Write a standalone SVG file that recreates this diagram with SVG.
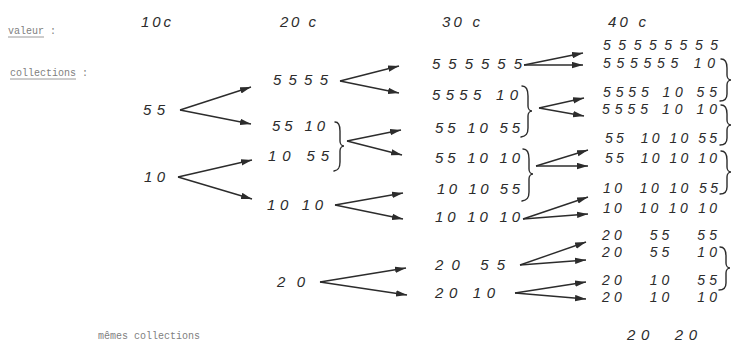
<svg xmlns="http://www.w3.org/2000/svg" width="732" height="344" viewBox="0 0 732 344">
<defs>
<style>
.h{font-family:"Liberation Sans",Arial,sans-serif;font-style:italic;font-size:15px;fill:#2c2c2c}
.s{font-size:14px}
.t{font-family:"Liberation Mono","DejaVu Sans Mono",monospace;font-size:10px;fill:#808080}
.u{stroke:#9a9a9a;stroke-width:1}
.a{stroke:#2c2c2c;stroke-width:1.4;fill:none;marker-end:url(#ah)}
.b{stroke:#2c2c2c;stroke-width:1.4;fill:none;stroke-linecap:round}
</style>
<marker id="ah" markerUnits="userSpaceOnUse" markerWidth="11" markerHeight="7" refX="11" refY="3.5" orient="auto">
<path d="M0,0.3 L11,3.5 L0,6.7 z" fill="#2c2c2c"/>
</marker>
</defs>
<rect width="732" height="344" fill="#ffffff"/>

<g id="labels">
<text class="t" x="8" y="34">valeur :</text>
<line class="u" x1="8" y1="37" x2="44" y2="37"/>
<text class="t" x="10" y="76">collections :</text>
<line class="u" x1="10" y1="79" x2="76" y2="79"/>
<text class="t" x="98" y="339">mêmes collections</text>
</g>

<g id="headers">
<text class="h" x="141" y="27" textLength="30" lengthAdjust="spacing">10c</text>
<text class="h" x="280" y="27" textLength="36" lengthAdjust="spacing">20 c</text>
<text class="h" x="442" y="27" textLength="38" lengthAdjust="spacing">30 c</text>
<text class="h" x="608" y="27" textLength="38" lengthAdjust="spacing">40 c</text>
</g>

<g id="c10-55"><text class="h" x="143" y="115" textLength="22" lengthAdjust="spacing">55</text></g>
<g id="c10-10"><text class="h" x="144" y="182" textLength="21" lengthAdjust="spacing">10</text></g>

<g id="c20-5555"><text class="h" x="273" y="85" textLength="55" lengthAdjust="spacing">5555</text></g>
<g id="c20-55-10"><text class="h" x="272" y="131" textLength="53" lengthAdjust="spacing">55 10</text></g>
<g id="c20-10-55"><text class="h" x="268" y="161" textLength="61" lengthAdjust="spacing">10 55</text></g>
<g id="c20-brace"><path class="b" d="M335,122 C339,122 340,126 340,131 L340,141 C340,144 342,146 344,146 C342,146 340,148 340,151 L340,162 C340,167 339,170 334,171"/></g>
<g id="c20-10-10"><text class="h" x="267" y="210" textLength="56" lengthAdjust="spacing">10 10</text></g>
<g id="c20-20"><text class="h" x="277" y="287" textLength="28" lengthAdjust="spacing">2 0</text></g>

<g id="c30-555555"><text class="h" x="432" y="69" textLength="90" lengthAdjust="spacing">555555</text></g>
<g id="c30-5555-10"><text class="h" x="432" y="100" textLength="86" lengthAdjust="spacing">5555 10</text></g>
<g id="c30-55-10-55"><text class="h" x="435" y="133" textLength="85" lengthAdjust="spacing">55 10 55</text></g>
<g id="c30-braceA"><path class="b" d="M522,86 C527,86 528,90 528,96 L528,106 C528,109 530,111 532,111 C530,111 528,113 528,116 L528,128 C528,134 526,136 521,137"/></g>
<g id="c30-55-10-10"><text class="h" x="435" y="163" textLength="85" lengthAdjust="spacing">55 10 10</text></g>
<g id="c30-10-10-55"><text class="h" x="437" y="194" textLength="83" lengthAdjust="spacing">10 10 55</text></g>
<g id="c30-braceB"><path class="b" d="M523,149 C528,149 529,153 529,159 L529,169 C529,172 531,174 533,174 C531,174 529,176 529,179 L529,192 C529,198 527,200 522,201"/></g>
<g id="c30-10-10-10"><text class="h" x="435" y="222" textLength="85" lengthAdjust="spacing">10 10 10</text></g>
<g id="c30-20-55"><text class="h" x="435" y="270" textLength="70" lengthAdjust="spacing">20 55</text></g>
<g id="c30-20-10"><text class="h" x="435" y="298" textLength="60" lengthAdjust="spacing">20 10</text></g>

<g id="c40-1"><text class="h s" x="603" y="50" textLength="115" lengthAdjust="spacing">55555555</text></g>
<g id="c40-2"><text class="h s" x="603" y="68" textLength="112" lengthAdjust="spacing">555555 10</text></g>
<g id="c40-3"><text class="h s" x="603" y="97" textLength="114" lengthAdjust="spacing">5555 10 55</text></g>
<g id="c40-braceC1"><path class="b" d="M721,59 C726,59 727,63 727,68 L727,75 C727,78 729,80 731,80 C729,80 727,82 727,85 L727,94 C727,99 725,101 720,101"/></g>
<g id="c40-4"><text class="h s" x="602" y="114" textLength="115" lengthAdjust="spacing">5555 10 10</text></g>
<g id="c40-5"><text class="h s" x="605" y="143" xml:space="preserve" textLength="112" lengthAdjust="spacing">55  10 10 55</text></g>
<g id="c40-braceC2"><path class="b" d="M721,105 C726,105 727,109 727,114 L727,120 C727,123 729,125 731,125 C729,125 727,127 727,130 L727,138 C727,143 725,145 720,145"/></g>
<g id="c40-6"><text class="h s" x="605" y="163" xml:space="preserve" textLength="112" lengthAdjust="spacing">55  10 10 10</text></g>
<g id="c40-7"><text class="h s" x="603" y="193" xml:space="preserve" textLength="115" lengthAdjust="spacing">10  10 10 55</text></g>
<g id="c40-braceC3"><path class="b" d="M721,151 C726,151 727,155 727,160 L727,167 C727,170 729,172 731,172 C729,172 727,174 727,177 L727,187 C727,192 725,194 720,194"/></g>
<g id="c40-8"><text class="h s" x="603" y="213" xml:space="preserve" textLength="114" lengthAdjust="spacing">10  10 10 10</text></g>
<g id="c40-9"><text class="h s" x="602" y="240" xml:space="preserve" textLength="115" lengthAdjust="spacing">20   55   55</text></g>
<g id="c40-10"><text class="h s" x="602" y="257" xml:space="preserve" textLength="115" lengthAdjust="spacing">20   55   10</text></g>
<g id="c40-braceC4"><path class="b" d="M720,247 C725,247 726,251 726,256 L726,263 C726,266 728,268 730,268 C728,268 726,270 726,273 L726,283 C726,288 724,290 719,290"/></g>
<g id="c40-11"><text class="h s" x="602" y="285" xml:space="preserve" textLength="115" lengthAdjust="spacing">20   10   55</text></g>
<g id="c40-12"><text class="h s" x="602" y="302" xml:space="preserve" textLength="115" lengthAdjust="spacing">20   10   10</text></g>
<g id="c40-13"><text class="h" x="627" y="340" xml:space="preserve" textLength="70" lengthAdjust="spacing">20  20</text></g>

<g id="connectors">
<path class="a" d="M180,110 L251,87"/>
<path class="a" d="M180,110 L251,124"/>
<path class="a" d="M178,177 L252,160"/>
<path class="a" d="M178,177 L252,199"/>

<path class="a" d="M340,81 L399,66"/>
<path class="a" d="M340,81 L399,93"/>
<path class="a" d="M347,141 L401,130"/>
<path class="a" d="M347,141 L402,155"/>
<path class="a" d="M335,205 L403,193"/>
<path class="a" d="M335,205 L403,219"/>
<path class="a" d="M320,282 L406,268"/>
<path class="a" d="M320,282 L407,295"/>

<path class="a" d="M524,65 L583,53"/>
<path class="a" d="M524,65 L583,65"/>
<path class="a" d="M539,108 L584,98"/>
<path class="a" d="M539,108 L584,116"/>
<path class="a" d="M536,166 L588,150"/>
<path class="a" d="M536,166 L588,166"/>
<path class="a" d="M523,219 L588,197"/>
<path class="a" d="M523,219 L588,214"/>
<path class="a" d="M520,265 L586,242"/>
<path class="a" d="M520,265 L586,260"/>
<path class="a" d="M515,293 L586,282"/>
<path class="a" d="M515,293 L586,299"/>
</g>
</svg>
